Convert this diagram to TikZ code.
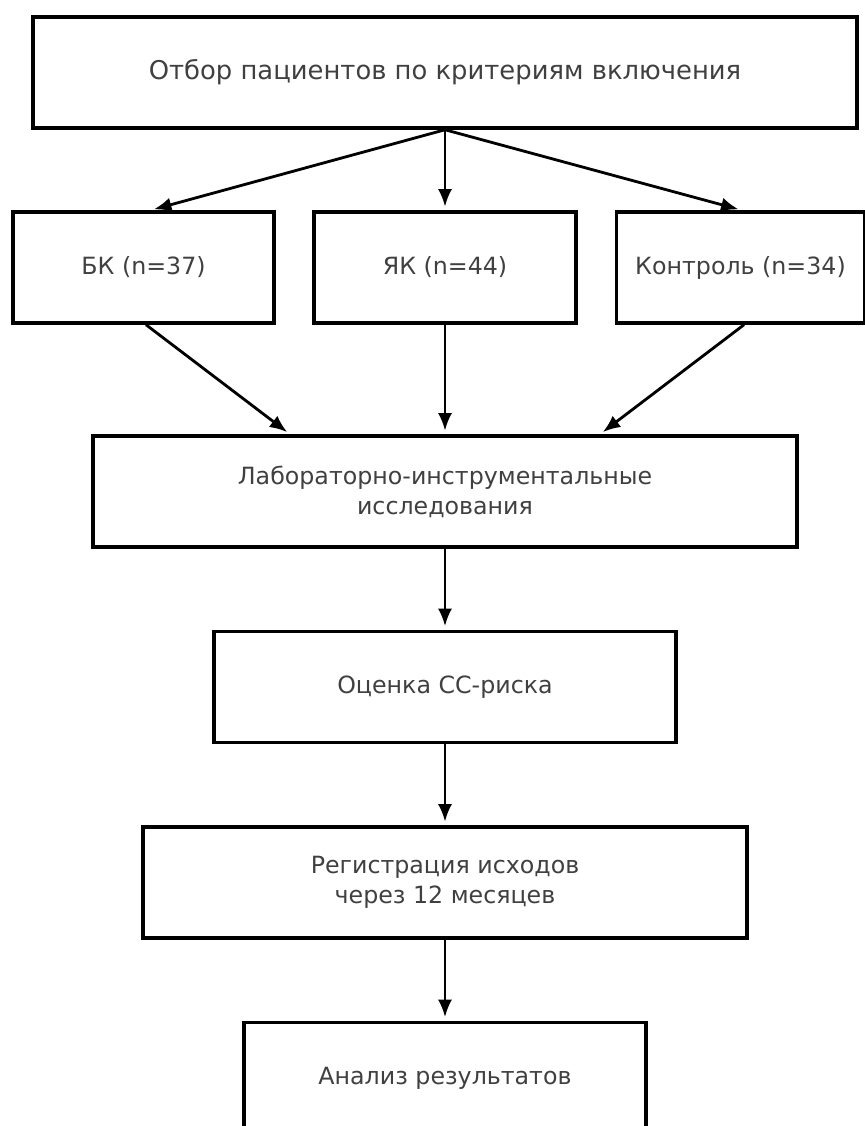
\documentclass[tikz,border=0pt]{standalone}
\usepackage{fontspec}
\setmainfont{DejaVu Sans}
\usetikzlibrary{arrows.meta}
\tikzset{
  box/.style={draw=black,line width=2pt,minimum height=2.22cm,align=center,
    text=black!75,font=\fontsize{13.5}{17}\selectfont,inner sep=0pt},
  arr/.style={-{Latex[length=10pt,width=8pt]},line width=1.6pt,shorten >=2pt}
}
\begin{document}
\begin{tikzpicture}[x=0.02cm,y=-0.02cm]
  \clip (0,0) rectangle (865,1126);
  % boxes
  \node[box,minimum width=16.48cm,font=\fontsize{14.7}{18}\selectfont] (sel) at (445,72.5) {Отбор пациентов по критериям включения};
  \node[box,minimum width=5.22cm] (bk) at (143.5,267.5) {БК (n=37)};
  \node[box,minimum width=5.24cm] (yak) at (445,267.5) {ЯК (n=44)};
  \node[box,minimum width=4.96cm] (ctrl) at (740.5,267.5) {Контроль (n=34)};
  \node[box,minimum width=14.08cm] (lab) at (445,491.5) {Лабораторно-инструментальные\\исследования};
  \node[box,minimum width=9.24cm] (risk) at (445,687) {Оценка СС-риска};
  \node[box,minimum width=12.08cm] (reg) at (445,882.5) {Регистрация исходов\\через 12 месяцев};
  \node[box,minimum width=8.04cm] (res) at (445,1078) {Анализ результатов};
  % connectors
  \draw[arr] (sel.south) -- ([xshift=0.14cm]bk.north);
  \draw[arr] (sel.south) -- (yak.north);
  \draw[arr] (sel.south) -- ([xshift=0.03cm]ctrl.north);
  \draw[arr] ([xshift=0.05cm]bk.south) -- ([xshift=-3.1cm]lab.north);
  \draw[arr] (yak.south) -- (lab.north);
  \draw[arr] ([xshift=0.07cm]ctrl.south) -- ([xshift=3.1cm]lab.north);
  \draw[arr] (lab.south) -- (risk.north);
  \draw[arr] (risk.south) -- (reg.north);
  \draw[arr] (reg.south) -- (res.north);
\end{tikzpicture}
\end{document}
